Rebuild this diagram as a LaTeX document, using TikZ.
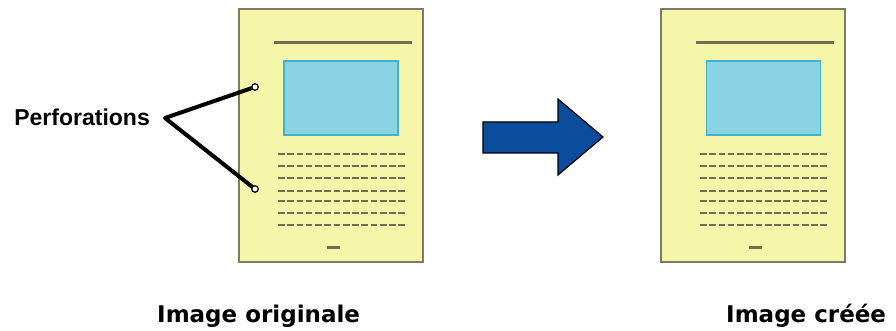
\documentclass[tikz,border=0pt]{standalone}
\usepackage{fontspec}
\newfontfamily\perffont{Liberation Sans}
\newfontfamily\capfont{DejaVu Sans}
\definecolor{pagefill}{HTML}{F5F6AA}
\definecolor{pageedge}{HTML}{7C7C66}
\definecolor{inkline}{HTML}{6E6E52}
\definecolor{picfill}{HTML}{8AD3E4}
\definecolor{picedge}{HTML}{3CB4CE}
\definecolor{arrowblue}{HTML}{0B4C9C}
\tikzset{
  pagebox/.style={draw=pageedge, line width=1.6pt, fill=pagefill, minimum width=184pt, minimum height=253pt, inner sep=0pt},
  picbox/.style={draw=picedge, line width=1.6pt, fill=picfill, minimum width=114pt, minimum height=74pt, inner sep=0pt},
  titleline/.style={draw=inkline, line width=3pt},
  textline/.style={draw=inkline, line width=2pt, dash pattern=on 6.7pt off 2.56pt},
  holebox/.style={circle, draw=black, fill=white, line width=1.2pt, minimum size=6.5pt, inner sep=0pt},
  pointer/.style={draw=black, line width=4pt, line cap=round, line join=round},
  caption/.style={font=\capfont\bfseries\fontsize{23}{26}\selectfont, inner sep=0pt, anchor=base west},
}
\newcommand{\pagecontent}[1]{%
  \begin{scope}[shift={(#1,0)}]
    \draw[titleline] (35,43) -- (173,43);
    \draw[textline] (39,154) -- (166,154);
    \draw[textline] (39,166) -- (166,166);
    \draw[textline] (39,178) -- (166,178);
    \draw[textline] (39,191) -- (166,191);
    \draw[textline] (39,201) -- (166,201);
    \draw[textline] (39,213) -- (166,213);
    \draw[textline] (39,225) -- (166,225);
    \draw[titleline] (88,247) -- (101,247);
  \end{scope}}
\begin{document}
\begin{tikzpicture}[x=1pt,y=-1pt]
\useasboundingbox (0,0) rectangle (896,331);
% left page
\node[pagebox] (orig) at (331,135.5) {};
\node[picbox] (origpic) at (341,98) {};
\pagecontent{239}
% right page
\node[pagebox] (made) at (753,135.5) {};
\node[picbox] (madepic) at (763.5,98) {};
\pagecontent{661}
% arrow
\draw[black, line width=1.2pt, fill=arrowblue, line join=miter]
  (483,122) -- (558,122) -- (558,99) -- (603,137) -- (558,175) -- (558,153) -- (483,153) -- cycle;
% perforations
\coordinate (hub) at (165,118);
\draw[pointer] (255,87) -- (hub) -- (255,189);
\node[holebox] (holeA) at (255,87) {};
\node[holebox] (holeB) at (255,189) {};
\node[font=\perffont\bfseries\fontsize{23}{25}\selectfont, inner sep=0pt, anchor=east] (perf) at (150,117) {Perforations};
% captions
\node[caption] (capA) at (157,322) {Image originale};
\node[caption] (capB) at (726,322) {Image créée};
\end{tikzpicture}
\end{document}
